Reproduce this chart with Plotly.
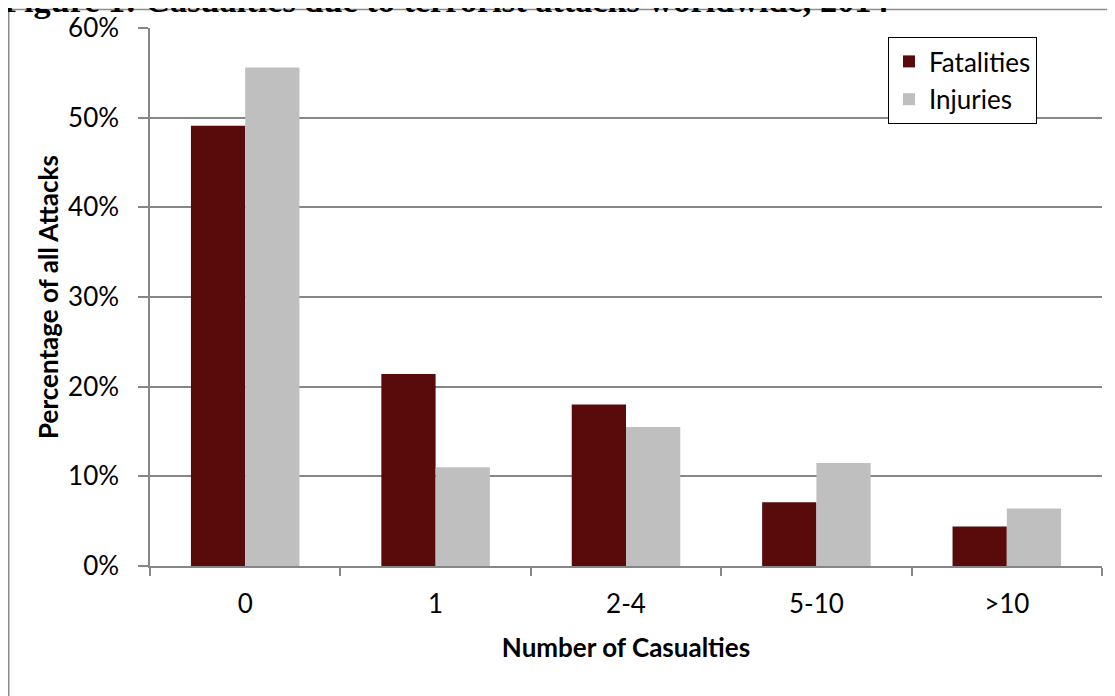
import plotly.graph_objects as go

categories = ["0", "1", "2-4", "5-10", ">10"]
fatalities = [0.491, 0.214, 0.180, 0.071, 0.044]
injuries = [0.556, 0.110, 0.155, 0.115, 0.064]
y_ticks = [0, 0.1, 0.2, 0.3, 0.4, 0.5, 0.6]
title_text = "Figure 1: Casualties due to terrorist attacks worldwide, 2014"

# The page body adds an 8px offset, so the figure is sized/positioned to compensate.
W, H = 1107, 688
L, R, T, B = 142, 13, 20, 130
pw = W - L - R
ph = H - T - B

def px_x(px):
    return (px - L) / pw

def px_y(py):
    return 1 - (py - T) / ph

GRID = "#868686"
FONT = "Lato"
FS = 26

fig = go.Figure()
fig.add_trace(go.Bar(x=categories, y=fatalities, name="Fatalities",
                     marker=dict(color="#590A0B", line=dict(width=0)),
                     legendgroup="f"))
fig.add_trace(go.Bar(x=categories, y=injuries, name="Injuries",
                     marker=dict(color="#BFBFBF", line=dict(width=0)),
                     legendgroup="i"))

fig.update_layout(
    width=W, height=H,
    margin=dict(l=L, r=R, t=T, b=B, autoexpand=False),
    paper_bgcolor="white", plot_bgcolor="white",
    barmode="group", bargap=0.43, bargroupgap=0,
    font=dict(family=FONT, size=FS, color="black"),
    showlegend=True,
    legend=dict(
        x=px_x(880), y=px_y(29), xanchor="left", yanchor="top",
        bgcolor="white", bordercolor="black", borderwidth=1,
        font=dict(family=FONT, size=FS, color="black"),
        traceorder="grouped", tracegroupgap=1,
    ),
    xaxis=dict(
        showline=True, linecolor=GRID, linewidth=1.5,
        ticks="outside", tickson="boundaries", ticklen=8, tickcolor=GRID, tickwidth=1.5,
        ticklabelstandoff=14,
        showgrid=False,
        tickfont=dict(family=FONT, size=FS),
        title=dict(text="<b>Number of Casualties</b>", standoff=21,
                   font=dict(family=FONT, size=FS)),
    ),
    yaxis=dict(
        range=[0, 0.6], tickvals=y_ticks, tickformat=".0%",
        showline=True, linecolor=GRID, linewidth=1.5,
        ticks="outside", ticklen=10, tickcolor=GRID, tickwidth=1.5,
        ticklabelstandoff=14,
        showgrid=True, gridcolor=GRID, gridwidth=1.5,
        zeroline=False,
        tickfont=dict(family=FONT, size=FS),
        title=dict(text="<b>Percentage of all Attacks</b>", standoff=2,
                   font=dict(family=FONT, size=FS)),
    ),
)

# outer chart border (extends beyond the page on right/bottom)
fig.add_shape(type="rect", xref="paper", yref="paper",
              x0=px_x(0.75), x1=px_x(W + 30), y0=px_y(H + 30), y1=px_y(1.5),
              line=dict(color="#8C8C8C", width=1.5), fillcolor="rgba(0,0,0,0)",
              layer="below")

# title, partially cut off at the top of the page
TS = 34.3
fig.add_annotation(text="<b>" + title_text + "</b>", xref="paper", yref="paper",
                   x=px_x(-7), y=px_y(3.5 - 0.3375 * TS), xanchor="left", yanchor="middle",
                   showarrow=False,
                   font=dict(family="Liberation Serif", size=TS, color="black"))

fig.write_html("out.html")
